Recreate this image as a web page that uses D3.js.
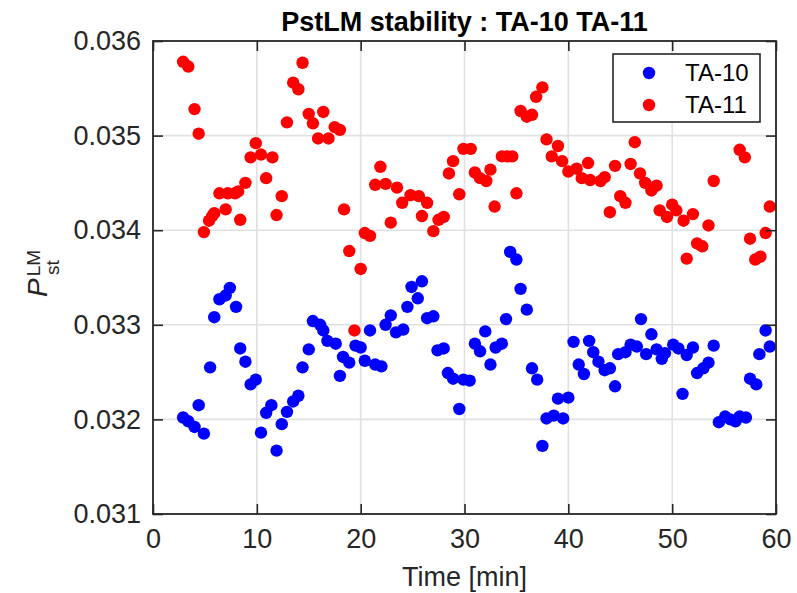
<!DOCTYPE html>
<html>
<head>
<meta charset="utf-8">
<script src="https://cdn.jsdelivr.net/npm/d3@7"></script>
<style>
  body { margin: 0; background: #fff; }
  svg { display: block; font-family: 'Liberation Sans', Arial, Helvetica, sans-serif; }
</style>
</head>
<body>
<div id="chart"></div>
<script>
// [time (min), value]
var ta10 = [
  [2.9, 0.03202], [3.4, 0.03198], [4.0, 0.03192], [4.4, 0.03215], [4.9, 0.03185],
  [5.5, 0.03255], [5.9, 0.03308], [6.4, 0.03327], [7.0, 0.03331], [7.4, 0.03339],
  [8.0, 0.03319], [8.4, 0.03275], [8.9, 0.03261], [9.4, 0.03237], [9.9, 0.03242],
  [10.4, 0.03186], [10.9, 0.03207], [11.4, 0.03215], [11.9, 0.03167], [12.4, 0.03195],
  [12.9, 0.03208], [13.5, 0.03219], [14.0, 0.03225], [14.4, 0.03255], [15.0, 0.03274],
  [15.4, 0.03304], [16.1, 0.03300], [16.4, 0.03294], [16.8, 0.03283], [17.6, 0.03280],
  [18.0, 0.03246], [18.3, 0.03266], [18.9, 0.03260], [19.5, 0.03278], [20.0, 0.03276],
  [20.4, 0.03262], [20.9, 0.03294], [21.4, 0.03258], [22.0, 0.03256], [22.4, 0.03300],
  [22.9, 0.03310], [23.4, 0.03292], [24.1, 0.03295], [24.5, 0.03319], [24.9, 0.03340],
  [25.5, 0.03328], [25.9, 0.03346], [26.4, 0.03307], [27.0, 0.03309], [27.4, 0.03273],
  [28.0, 0.03275], [28.4, 0.03249], [28.9, 0.03243], [29.5, 0.03211], [29.9, 0.03242],
  [30.5, 0.03241], [31.0, 0.03280], [31.5, 0.03272], [32.0, 0.03293], [32.5, 0.03258],
  [33.0, 0.03276], [33.6, 0.03280], [34.0, 0.03306], [34.4, 0.03377], [35.0, 0.03369],
  [35.4, 0.03338], [36.0, 0.03316], [36.5, 0.03254], [37.0, 0.03242], [37.5, 0.03172],
  [37.9, 0.03201], [38.6, 0.03204], [39.0, 0.03222], [39.5, 0.03201], [40.0, 0.03223],
  [40.5, 0.03282], [41.0, 0.03258], [41.5, 0.03248], [42.0, 0.03283], [42.4, 0.03271],
  [42.9, 0.03261], [43.5, 0.03252], [44.0, 0.03254], [44.5, 0.03235], [44.8, 0.03269],
  [45.5, 0.03271], [46.0, 0.03279], [46.6, 0.03277], [47.0, 0.03306], [47.5, 0.03269],
  [48.0, 0.03290], [48.5, 0.03274], [49.0, 0.03264], [49.3, 0.03270], [50.1, 0.03279],
  [50.6, 0.03275], [51.0, 0.03227], [51.4, 0.03268], [52.0, 0.03276], [52.4, 0.03249],
  [53.0, 0.03254], [53.5, 0.03260], [54.0, 0.03278], [54.5, 0.03197], [55.1, 0.03203],
  [55.6, 0.03200], [56.1, 0.03198], [56.5, 0.03203], [57.1, 0.03202], [57.5, 0.03243],
  [58.1, 0.03237], [58.4, 0.03269], [59.0, 0.03294], [59.4, 0.03277]
];

var ta11 = [
  [2.9, 0.03578], [3.4, 0.03573], [4.0, 0.03528], [4.4, 0.03502], [4.9, 0.03398],
  [5.4, 0.03410], [5.7, 0.03415], [5.9, 0.03418], [6.4, 0.03439], [7.0, 0.03422],
  [7.2, 0.03439], [7.9, 0.03439], [8.2, 0.03441], [8.4, 0.03411], [8.9, 0.03450],
  [9.4, 0.03477], [9.9, 0.03492], [10.4, 0.03480], [10.9, 0.03455], [11.5, 0.03477],
  [11.9, 0.03416], [12.4, 0.03436], [12.9, 0.03514], [13.5, 0.03556], [14.0, 0.03549],
  [14.4, 0.03577], [15.0, 0.03523], [15.4, 0.03513], [15.9, 0.03497], [16.4, 0.03525],
  [16.9, 0.03497], [17.5, 0.03509], [18.0, 0.03506], [18.4, 0.03422], [18.9, 0.03378],
  [19.4, 0.03294], [20.0, 0.03359], [20.4, 0.03397], [20.9, 0.03394], [21.4, 0.03448],
  [21.9, 0.03467], [22.4, 0.03449], [22.9, 0.03408], [23.5, 0.03445], [24.0, 0.03429],
  [24.8, 0.03437], [25.6, 0.03436], [25.9, 0.03415], [26.4, 0.03429], [27.0, 0.03399],
  [27.5, 0.03411], [28.0, 0.03414], [28.5, 0.03460], [28.9, 0.03473], [29.5, 0.03438],
  [29.9, 0.03486], [30.6, 0.03486], [31.0, 0.03461], [31.5, 0.03455], [32.1, 0.03452],
  [32.5, 0.03464], [32.9, 0.03425], [33.6, 0.03478], [34.1, 0.03478], [34.6, 0.03478],
  [35.0, 0.03439], [35.4, 0.03526], [36.0, 0.03520], [36.5, 0.03522], [36.9, 0.03541],
  [37.5, 0.03551], [37.9, 0.03496], [38.4, 0.03478], [39.0, 0.03489], [39.4, 0.03473],
  [40.0, 0.03462], [40.8, 0.03465], [41.3, 0.03455], [41.9, 0.03471], [42.1, 0.03453],
  [43.1, 0.03452], [43.5, 0.03456], [44.0, 0.03419], [44.5, 0.03468], [45.0, 0.03436],
  [45.5, 0.03429], [46.0, 0.03470], [46.4, 0.03493], [46.9, 0.03460], [47.4, 0.03450],
  [48.0, 0.03442], [48.5, 0.03447], [48.8, 0.03421], [49.5, 0.03414], [50.0, 0.03427],
  [50.4, 0.03421], [51.1, 0.03410], [51.4, 0.03370], [52.0, 0.03417], [52.4, 0.03386],
  [52.9, 0.03383], [53.5, 0.03405], [54.0, 0.03452], [56.5, 0.03485], [57.0, 0.03477],
  [57.5, 0.03391], [58.0, 0.03369], [58.5, 0.03372], [59.0, 0.03397], [59.4, 0.03425]
];

var xTicks = [0, 10, 20, 30, 40, 50, 60];
var yTicks = [0.031, 0.032, 0.033, 0.034, 0.035, 0.036];
var seriesNames = ['TA-10', 'TA-11'];
var seriesColors = ['#0000ff', '#ff0000'];

var width = 797,
  height = 593,
  margin = { top: 41, right: 21, bottom: 79, left: 153 };

var axisColor = '#262626';
var tickFont = '27px';

var x = d3.scaleLinear()
  .domain([0, 60])
  .range([margin.left, width - margin.right]);

var y = d3.scaleLinear()
  .domain([0.031, 0.036])
  .range([height - margin.bottom, margin.top]);

var svg = d3.select('#chart')
  .append('svg')
  .attr('width', width)
  .attr('height', height);

// Grid lines
var grid = svg.append('g').attr('class', 'grid');

grid.selectAll('line.gx')
  .data(xTicks.slice(1, -1))
  .enter()
  .append('line')
  .attr('class', 'gx')
  .attr('x1', function(d) { return x(d); })
  .attr('x2', function(d) { return x(d); })
  .attr('y1', y(0.036))
  .attr('y2', y(0.031))
  .attr('stroke', '#e1e1e1')
  .attr('stroke-width', 1.6);

grid.selectAll('line.gy')
  .data(yTicks.slice(1, -1))
  .enter()
  .append('line')
  .attr('class', 'gy')
  .attr('x1', x(0))
  .attr('x2', x(60))
  .attr('y1', function(d) { return y(d); })
  .attr('y2', function(d) { return y(d); })
  .attr('stroke', '#e1e1e1')
  .attr('stroke-width', 1.6);

// Points, TA-10 first so TA-11 sits on top
[ta10, ta11].forEach(function(series, i) {
  svg.append('g')
    .selectAll('circle')
    .data(series)
    .enter()
    .append('circle')
    .attr('cx', function(d) { return x(d[0]); })
    .attr('cy', function(d) { return y(d[1]); })
    .attr('r', 6.2)
    .style('fill', seriesColors[i]);
});

// Axes with inward ticks
function styleAxis(g) {
  g.select('.domain').remove();
  g.selectAll('.tick line').attr('stroke', axisColor).attr('stroke-width', 1.6);
  g.selectAll('.tick text')
    .style('font-size', tickFont)
    .style('fill', axisColor);
}

svg.append('g')
  .attr('transform', 'translate(0,' + y(0.031) + ')')
  .call(d3.axisBottom(x).tickValues(xTicks).tickSize(-10).tickPadding(15))
  .call(styleAxis);

svg.append('g')
  .attr('transform', 'translate(0,' + y(0.036) + ')')
  .call(d3.axisTop(x).tickValues(xTicks).tickSize(-10).tickFormat(''))
  .call(styleAxis);

svg.append('g')
  .attr('transform', 'translate(' + x(0) + ',0)')
  .call(d3.axisLeft(y).tickValues(yTicks).tickSize(-10).tickPadding(12).tickFormat(d3.format('.3f')))
  .call(styleAxis);

svg.append('g')
  .attr('transform', 'translate(' + x(60) + ',0)')
  .call(d3.axisRight(y).tickValues(yTicks).tickSize(-10).tickFormat(''))
  .call(styleAxis);

// Box
svg.append('rect')
  .attr('x', x(0))
  .attr('y', y(0.036))
  .attr('width', x(60) - x(0))
  .attr('height', y(0.031) - y(0.036))
  .attr('fill', 'none')
  .attr('stroke', axisColor)
  .attr('stroke-width', 1.8);

// Title
svg.append('text')
  .text('PstLM stability : TA-10 TA-11')
  .attr('x', (x(0) + x(60)) / 2)
  .attr('y', 31)
  .style('font-size', '27px')
  .style('font-weight', 'bold')
  .style('fill', '#000')
  .style('text-anchor', 'middle');

// X label
svg.append('text')
  .text('Time [min]')
  .attr('x', (x(0) + x(60)) / 2)
  .attr('y', 586)
  .style('font-size', '27px')
  .style('fill', axisColor)
  .style('text-anchor', 'middle');

// Y label: P^{LM}_{st}
var yLabel = svg.append('text')
  .attr('transform', 'translate(47,297) rotate(-90)')
  .style('fill', axisColor);

yLabel.append('tspan')
  .text('P')
  .style('font-size', '28px')
  .style('font-style', 'italic');

yLabel.append('tspan')
  .text('LM')
  .attr('dx', 2)
  .attr('dy', -7)
  .style('font-size', '19px');

yLabel.append('tspan')
  .text('st')
  .attr('dx', -25)
  .attr('dy', 19)
  .style('font-size', '19px');

// Legend
var legend = svg.append('g')
  .attr('class', 'legend')
  .attr('transform', 'translate(613, 54)');

legend.append('rect')
  .attr('width', 147)
  .attr('height', 68)
  .attr('fill', '#fff')
  .attr('stroke', axisColor)
  .attr('stroke-width', 1.6);

var items = legend.selectAll('g.item')
  .data(seriesNames)
  .enter()
  .append('g')
  .attr('class', 'item')
  .attr('transform', function(d, i) { return 'translate(0,' + (19 + i * 32) + ')'; });

items.append('circle')
  .attr('cx', 36)
  .attr('cy', 0)
  .attr('r', 6.2)
  .style('fill', function(d, i) { return seriesColors[i]; });

items.append('text')
  .text(function(d) { return d; })
  .attr('x', 72)
  .attr('y', 0)
  .attr('dy', '0.35em')
  .style('font-size', '24px')
  .style('fill', '#000');
</script>
</body>
</html>
